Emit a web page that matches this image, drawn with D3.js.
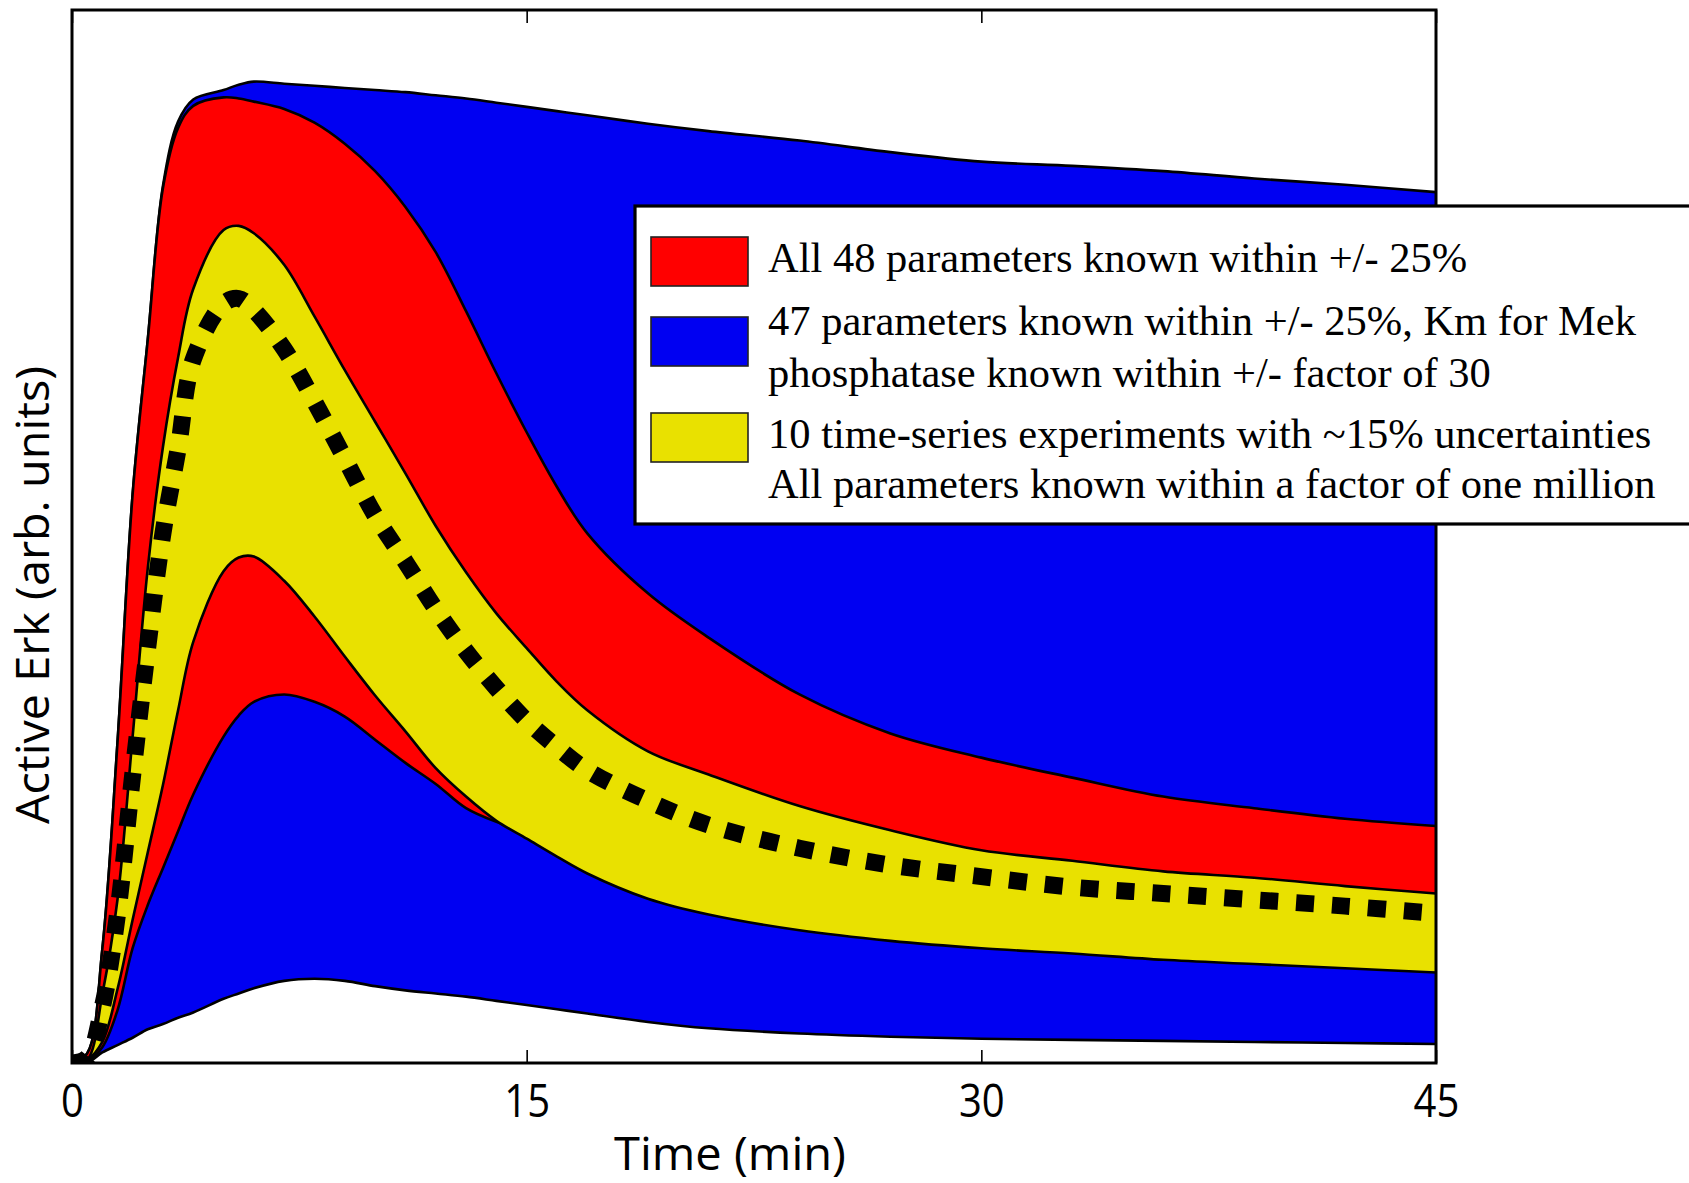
<!DOCTYPE html>
<html><head><meta charset="utf-8">
<script src="https://cdn.jsdelivr.net/npm/d3@7"></script>
<style>body{margin:0;background:#fff;overflow:hidden}</style>
</head><body>
<svg id="chart" width="1689" height="1183"></svg>
<script>
// ---- data (time in min, Active Erk in arbitrary units, 0..100 = plot height) ----
const times       = [0, 0.5, 1, 1.5, 2, 2.5, 3, 3.5, 4, 5, 5.5, 6, 7, 8, 9, 10, 11, 12, 13, 14, 15, 16, 17, 19, 21, 24, 27, 30, 33, 36, 39, 42, 45];
const blueUpper   = [0, 0.9, 10.8, 30.4, 54.0, 68.7, 83.3, 89.4, 91.5, 92.4, 92.9, 93.2, 93.0, 92.8, 92.6, 92.4, 92.2, 91.9, 91.6, 91.2, 90.8, 90.4, 90.0, 89.2, 88.5, 87.6, 86.5, 85.6, 85.2, 84.7, 84.0, 83.4, 82.7];
const blueLower   = [0, 0, 1.0, 1.7, 2.4, 3.2, 3.7, 4.3, 4.8, 6.1, 6.6, 7.1, 7.8, 8.0, 7.8, 7.3, 6.9, 6.6, 6.3, 5.9, 5.5, 5.1, 4.7, 3.9, 3.3, 2.8, 2.5, 2.3, 2.2, 2.1, 2.0, 1.9, 1.8];
const redUpper    = [0, 0.9, 10.8, 30.4, 54.0, 68.7, 83.1, 88.8, 90.9, 91.7, 91.6, 91.3, 90.6, 89.3, 87.3, 84.7, 81.3, 77.0, 71.4, 65.5, 59.9, 54.7, 50.3, 44.6, 40.4, 35.0, 31.3, 29.0, 27.1, 25.3, 24.2, 23.2, 22.5];
const redLower    = [0, 0.2, 1.5, 5.0, 10.9, 15.0, 18.5, 22.0, 25.5, 31.0, 33.0, 34.3, 35.0, 34.3, 32.9, 30.7, 28.5, 26.5, 24.2, 22.9, 22.0, 21.2, 20.3, 18.5, 17.2, 15.8, 14.8, 14.0, 13.5, 13.0, 12.6, 12.2, 11.8];
const yellowUpper = [0, 0.3, 6.5, 15.5, 31.0, 47.0, 58.5, 67.0, 73.5, 79.1, 79.5, 78.8, 75.8, 70.9, 65.8, 60.9, 56.0, 51.0, 46.6, 42.7, 39.4, 36.2, 33.5, 29.6, 27.4, 24.4, 22.1, 20.2, 19.2, 18.2, 17.6, 16.8, 16.1];
const yellowLower = [0, 0.3, 2.0, 7.0, 13.6, 20.0, 26.4, 33.5, 40.0, 46.7, 48.0, 48.1, 45.8, 42.4, 38.6, 34.9, 31.5, 28.0, 25.3, 23.0, 21.3, 19.6, 18.0, 15.6, 14.1, 12.6, 11.6, 10.9, 10.4, 9.8, 9.4, 9.0, 8.6];
const median      = [0, 0.5, 5.3, 14.1, 27.3, 39.5, 50.3, 58.3, 66.8, 72.1, 72.6, 71.5, 67.8, 62.8, 57.4, 52.0, 47.6, 43.1, 39.1, 35.6, 32.5, 30.0, 27.8, 24.9, 22.6, 20.4, 18.8, 17.7, 16.7, 16.1, 15.5, 14.9, 14.2];
const xTicks = [0, 15, 30, 45];
const bandColors = ["#0000f2", "#ff0000", "#e9e100"];
const legendColors = ["#ff0000", "#0000f2", "#e9e100"];
const legendLines = [
  ["All 48 parameters known within +/- 25%"],
  ["47 parameters known within +/- 25%, Km for Mek", "phosphatase known within +/- factor of 30"],
  ["10 time-series experiments with ~15% uncertainties", "All parameters known within a factor of one million"]
];
const xLabel = "Time (min)";
const yLabel = "Active Erk (arb. units)";

// ---- drawing ----
const svg = d3.select("#chart");
svg.append("rect").attr("width", 1689).attr("height", 1183).attr("fill", "#fff");
const L = 72, R = 1436, T = 10, B = 1063;
const x = d3.scaleLinear().domain([0, 45]).range([L, R]);
const y = d3.scaleLinear().domain([0, 100]).range([B, T]);
const curve = d3.curveCatmullRom.alpha(0.5);

svg.append("clipPath").attr("id", "clip").append("rect")
  .attr("x", L).attr("y", T).attr("width", R - L).attr("height", B - T);
const g = svg.append("g").attr("clip-path", "url(#clip)");
const idx = d3.range(times.length);

const bands = [
  {up: blueUpper, lo: blueLower, c: bandColors[0]},
  {up: redUpper, lo: redLower, c: bandColors[1]},
  {up: yellowUpper, lo: yellowLower, c: bandColors[2]}
];
bands.forEach(b => {
  const area = d3.area().x(i => x(times[i])).y0(i => y(b.lo[i])).y1(i => y(b.up[i])).curve(curve);
  g.append("path").datum(idx).attr("d", area).attr("fill", b.c);
  [b.up, b.lo].forEach(arr => {
    const line = d3.line().x(i => x(times[i])).y(i => y(arr[i])).curve(curve);
    g.append("path").datum(idx).attr("d", line).attr("fill", "none")
      .attr("stroke", "#000").attr("stroke-width", 2.6).attr("stroke-linejoin", "round");
  });
});
const medLine = d3.line().x(i => x(times[i])).y(i => y(median[i])).curve(curve);
g.append("path").datum(idx).attr("d", medLine).attr("fill", "none")
  .attr("stroke", "#000").attr("stroke-width", 17).attr("stroke-dasharray", "18,18");

// axes
const fontSans = "'Open Sans', 'DejaVu Sans', sans-serif";
const bottomAxis = svg.append("g").attr("transform", `translate(0,${B})`)
  .call(d3.axisBottom(x).tickValues(xTicks).tickSizeInner(-13).tickSizeOuter(0).tickPadding(21));
bottomAxis.select(".domain").remove();
bottomAxis.selectAll("line").attr("stroke", "#000").attr("stroke-width", 1.6);
bottomAxis.selectAll("text").attr("font-family", fontSans).attr("font-size", 46).attr("fill", "#000")
  .each(function() { const w = this.getComputedTextLength(); d3.select(this).attr("textLength", w * 0.87).attr("lengthAdjust", "spacingAndGlyphs"); });
const topAxis = svg.append("g").attr("transform", `translate(0,${T})`)
  .call(d3.axisTop(x).tickValues(xTicks).tickSizeInner(-13).tickSizeOuter(0).tickFormat(""));
topAxis.select(".domain").remove();
topAxis.selectAll("line").attr("stroke", "#000").attr("stroke-width", 1.6);

svg.append("rect").attr("x", L).attr("y", T).attr("width", R - L).attr("height", B - T)
  .attr("fill", "none").attr("stroke", "#000").attr("stroke-width", 3);

svg.append("text").attr("x", 730).attr("y", 1170).attr("text-anchor", "middle")
  .attr("font-family", fontSans).attr("font-size", 45).attr("fill", "#000")
  .attr("textLength", 232).attr("lengthAdjust", "spacingAndGlyphs").text(xLabel);
svg.append("text").attr("transform", "translate(49,595) rotate(-90)").attr("text-anchor", "middle")
  .attr("font-family", fontSans).attr("font-size", 46).attr("fill", "#000")
  .attr("textLength", 458).attr("lengthAdjust", "spacingAndGlyphs").text(yLabel);

// legend
const lg = svg.append("g");
lg.append("rect").attr("x", 635).attr("y", 206).attr("width", 1200).attr("height", 318)
  .attr("fill", "#fff").attr("stroke", "#000").attr("stroke-width", 3.2);
const patchY = [237, 317, 413];
const baseY = [[272], [335, 387], [448, 498]];
legendLines.forEach((lines, k) => {
  lg.append("rect").attr("x", 651).attr("y", patchY[k]).attr("width", 97).attr("height", 49)
    .attr("fill", legendColors[k]).attr("stroke", "#222").attr("stroke-width", 1.6);
  lines.forEach((s, j) => {
    lg.append("text").attr("x", 768).attr("y", baseY[k][j])
      .attr("font-family", "'Liberation Serif', 'Times New Roman', serif").attr("font-size", 42.5)
      .attr("fill", "#000").text(s);
  });
});
</script>
</body></html>
